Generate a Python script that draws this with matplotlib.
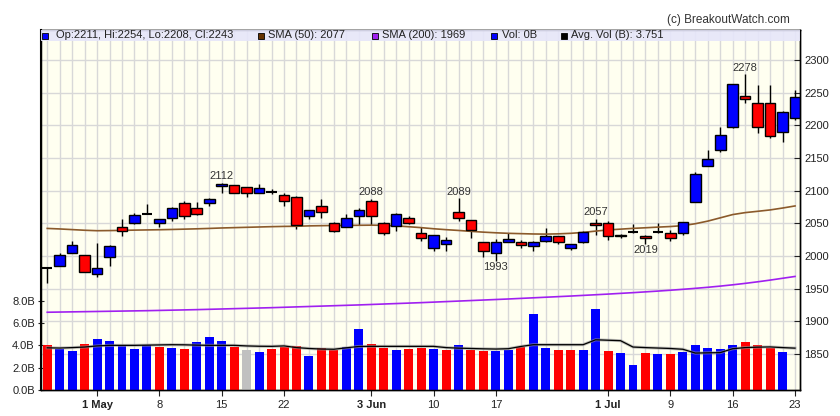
import numpy as np
import matplotlib
matplotlib.use('Agg')
import matplotlib.pyplot as plt

plt.rcParams['font.family'] = ['Liberation Sans', 'DejaVu Sans']

# daily OHLC, 25 Apr - 23 Jul (trading days)
opens = [1982, 1985, 2005, 2002, 1973, 1999, 2045, 2050, 2065, 2051,
         2058, 2081, 2073, 2081, 2107, 2108, 2105, 2097, 2098, 2094,
         2091, 2062, 2077, 2051, 2045, 2062, 2084, 2051, 2046, 2059,
         2036, 2013, 2019, 2067, 2055, 2021, 2004, 2022, 2022, 2016,
         2023, 2031, 2013, 2021, 2050, 2050, 2030, 2037, 2031, 2037,
         2036, 2036, 2082, 2138, 2162, 2197, 2245, 2234, 2234, 2190,
         2211]
highs = [1983, 2005, 2023, 2002, 2020, 2017, 2057, 2066, 2080, 2057,
         2075, 2084, 2082, 2089, 2112, 2109, 2106, 2111, 2103, 2097,
         2092, 2071, 2087, 2052, 2064, 2074, 2088, 2052, 2066, 2062,
         2044, 2033, 2029, 2089, 2055, 2021, 2026, 2035, 2025, 2023,
         2043, 2031, 2018, 2038, 2057, 2053, 2034, 2049, 2032, 2050,
         2040, 2052, 2128, 2163, 2197, 2264, 2278, 2262, 2262, 2222,
         2254]
lows = [1959, 1985, 2005, 1975, 1968, 1985, 2031, 2049, 2064, 2044,
        2054, 2056, 2063, 2077, 2096, 2097, 2091, 2096, 2095, 2077,
        2042, 2057, 2059, 2037, 2044, 2048, 2048, 2033, 2038, 2049,
        2023, 2008, 2007, 2053, 2027, 1999, 1993, 2022, 2013, 2008,
        2022, 2018, 2010, 2020, 2033, 2024, 2027, 2036, 2019, 2036,
        2023, 2032, 2082, 2138, 2160, 2196, 2235, 2189, 2180, 2175,
        2208]
closes = [1982, 2002, 2017, 1975, 1981, 2016, 2038, 2063, 2065, 2056,
          2074, 2061, 2064, 2087, 2110, 2097, 2097, 2104, 2098, 2084,
          2048, 2071, 2068, 2038, 2058, 2071, 2061, 2035, 2065, 2050,
          2028, 2033, 2025, 2058, 2040, 2007, 2022, 2026, 2017, 2022,
          2031, 2021, 2018, 2037, 2047, 2031, 2033, 2037, 2027, 2037,
          2028, 2052, 2125, 2148, 2186, 2263, 2240, 2197, 2183, 2220,
          2243]

# volume in billions
volume = [4.06, 3.70, 3.52, 4.15, 4.60, 4.42, 3.97, 3.67, 4.06, 3.85,
          3.76, 3.70, 4.30, 4.78, 4.42, 3.85, 3.58, 3.40, 3.70, 3.85,
          3.94, 3.05, 3.76, 3.58, 3.85, 5.47, 4.12, 3.76, 3.58, 3.67,
          3.76, 3.67, 3.58, 4.03, 3.61, 3.49, 3.49, 3.58, 3.85, 6.81,
          3.76, 3.58, 3.58, 3.58, 7.26, 3.49, 3.31, 2.24, 3.31, 3.23,
          3.23, 3.40, 4.03, 3.76, 3.67, 4.03, 4.30, 4.03, 3.76, 3.40,
          0.0]
avg_vol = [3.78, 3.76, 3.80, 3.85, 3.95, 4.00, 4.00, 4.00, 4.02, 4.04,
           4.06, 4.05, 4.02, 4.00, 4.00, 4.00, 3.95, 3.92, 3.91, 3.95,
           3.80, 3.72, 3.67, 3.65, 3.78, 3.90, 3.91, 3.91, 3.91, 3.91,
           3.91, 3.91, 3.80, 3.75, 3.72, 3.69, 3.67, 3.70, 3.90, 4.06,
           4.06, 4.06, 4.06, 4.06, 4.50, 4.46, 4.42, 3.85, 3.80, 3.76,
           3.72, 3.65, 3.31, 3.33, 3.35, 3.70, 3.80, 3.84, 3.86, 3.80,
           3.751]

sma50 = [2042.3, 2041.5, 2040.5, 2039.5, 2038.8, 2039.0, 2039.3, 2039.7, 2040.0, 2040.3,
         2040.7, 2041.2, 2041.7, 2042.3, 2043.0, 2043.5, 2044.0, 2044.5, 2045.0, 2045.4,
         2045.6, 2046.2, 2046.5, 2046.8, 2046.9, 2047.1, 2047.3, 2047.0, 2046.2, 2044.9,
         2043.5, 2041.8, 2040.4, 2039.2, 2037.8, 2036.6, 2035.6, 2034.8, 2034.3, 2033.8,
         2033.6, 2034.0, 2034.8, 2036.2, 2038.2, 2040.0, 2041.2, 2042.4, 2043.3, 2044.3,
         2045.2, 2046.6, 2049.5, 2053.5, 2058.5, 2063.5, 2066.5, 2068.5, 2070.6, 2073.5,
         2076.7]
sma200 = [1914.0, 1914.3, 1914.6, 1914.9, 1915.2, 1915.5, 1915.8, 1916.1, 1916.4, 1916.8,
          1917.2, 1917.6, 1918.0, 1918.5, 1919.0, 1919.5, 1920.0, 1920.5, 1921.0, 1921.6,
          1922.2, 1922.8, 1923.4, 1924.0, 1924.6, 1925.2, 1925.9, 1926.6, 1927.3, 1928.0,
          1928.7, 1929.5, 1930.3, 1931.1, 1931.9, 1932.7, 1933.5, 1934.3, 1935.2, 1936.1,
          1937.0, 1937.9, 1938.8, 1939.8, 1940.8, 1941.8, 1942.9, 1944.0, 1945.2, 1946.4,
          1947.7, 1949.1, 1950.6, 1952.2, 1954.0, 1956.0, 1958.2, 1960.6, 1963.2, 1966.0,
          1968.8]

tick_idx = [4, 9, 14, 19, 26, 31, 36, 45, 50, 55, 60]
tick_labels = ['1 May', '8', '15', '22', '3 Jun', '10', '17', '1 Jul', '9', '16', '23']
peak_idx = [14, 26, 33, 44, 56]
trough_idx = [36, 48]

BLUE = '#0000ff'
RED = '#ff0000'

def main():
    o = np.array(opens, float)
    h = np.array(highs, float)
    l = np.array(lows, float)
    c = np.array(closes, float)
    n = len(c)
    x = np.arange(n)

    fig = plt.figure(figsize=(8.4, 4.16), dpi=100)
    # price axes at the bottom (carries background and grid)
    axp = fig.add_axes([41 / 840, 26 / 416, 759 / 840, 360 / 416])
    axp.set_facecolor('#fffff0')
    axv = axp.twinx()

    # grid
    axp.set_xticks(x, minor=True)
    axp.grid(True, which='both', axis='x', color='#d8d8d8', lw=1)
    axp.grid(True, which='major', axis='y', color='#d8d8d8', lw=1)
    axp.set_axisbelow(True)

    # candles
    axp.vlines(x, l, h, color='black', lw=1, zorder=2)
    body = c != o
    cols = np.where(c > o, BLUE, RED)
    axp.bar(x[body], (c - o)[body], bottom=o[body], width=0.85,
            color=cols[body], edgecolor='black', linewidth=1, zorder=3)
    axp.hlines(c[~body], x[~body] - 0.42, x[~body] + 0.42, color='black',
               lw=1.5, zorder=3)

    # moving averages
    axp.plot(x, sma50, color='#8b5a2b', lw=1.2, zorder=2)
    axp.plot(x, sma200, color='#a020f0', lw=1.2, zorder=2)

    # peak / trough labels
    for i in peak_idx:
        axp.annotate(f'{h[i]:.0f}', (x[i], h[i]), xytext=(0, 1),
                     textcoords='offset points', ha='center', va='bottom',
                     fontsize=8, color='#333333')
    for i in trough_idx:
        axp.annotate(f'{l[i]:.0f}', (x[i], l[i]), xytext=(0, -1),
                     textcoords='offset points', ha='center', va='top',
                     fontsize=8, color='#333333')

    axp.set_ylim(1795, 2346)
    axp.set_yticks(np.arange(1850, 2301, 50))
    axp.yaxis.tick_right()
    axp.set_xlim(-0.5, n - 0.6)
    axp.set_xticks(tick_idx)
    axp.set_xticklabels(tick_labels)
    for t in axp.get_xticklabels():
        if ' ' in t.get_text():
            t.set_fontweight('bold')
    axp.tick_params(axis='x', which='major', direction='out', length=4,
                    labelsize=8, colors='#222222')
    axp.tick_params(axis='x', which='minor', length=0)
    axp.tick_params(axis='y', direction='in', length=4, labelsize=8,
                    colors='#222222', pad=3, right=True, left=False)

    # volume
    chg = np.diff(c, prepend=np.nan)
    vcols = np.where(chg > 0, BLUE, np.where(chg < 0, RED, '#c0c0c0'))
    vcols[0] = RED
    axv.bar(x, volume, width=0.72, color=vcols, zorder=2)
    axv.plot(x, avg_vol, color='#999999', lw=2.2, alpha=0.6, zorder=3)
    axv.plot(x, avg_vol, color='black', lw=0.9, zorder=3)
    axv.set_ylim(0, 32.26)
    axv.set_yticks([0, 2, 4, 6, 8])
    axv.set_yticklabels([f'{v:.1f}B' for v in [0, 2, 4, 6, 8]])
    axv.yaxis.tick_left()
    axv.tick_params(axis='y', direction='inout', length=5, labelsize=8,
                    colors='#222222', pad=2)

    for a in (axp, axv):
        for s in a.spines.values():
            s.set_color('black')
            s.set_linewidth(1)
    axv.spines['left'].set_linewidth(1.5)

    # legend band
    axv.add_patch(plt.Rectangle((0, 1 - 11 / 360), 1, 11 / 360,
                                transform=axv.transAxes, facecolor='#e6e6fa',
                                edgecolor='none', alpha=0.9, zorder=5))
    ly = 1 - 5.5 / 360
    items = [
        (BLUE, f'Op:{o[-1]:.0f}, Hi:{h[-1]:.0f}, Lo:{l[-1]:.0f}, Cl:{c[-1]:.0f}', 45, 56),
        ('#663300', f'SMA (50): {sma50[-1]:.0f}', 260.5, 268),
        ('#a020f0', f'SMA (200): {sma200[-1]:.0f}', 374.5, 382),
        (BLUE, f'Vol: {volume[-1]:.0f}B', 494, 502),
        ('black', f'Avg. Vol (B): {avg_vol[-1]:.3f}', 564, 571),
    ]
    for col, txt, sx, tx in items:
        axv.plot([(sx - 41) / 759], [ly], marker='s', markersize=4.5,
                 markerfacecolor=col, markeredgecolor='black', mew=0.6,
                 transform=axv.transAxes, zorder=6, clip_on=False)
        axv.text((tx - 41) / 759, ly, txt, transform=axv.transAxes,
                 fontsize=8, va='center', ha='left', color='#222222', zorder=6)

    fig.text(790 / 840, 1 - 20 / 416, '(c) BreakoutWatch.com', ha='right',
             va='center', fontsize=8.5, color='#333333')

    fig.savefig('out.png', dpi=100)


if __name__ == '__main__':
    main()
